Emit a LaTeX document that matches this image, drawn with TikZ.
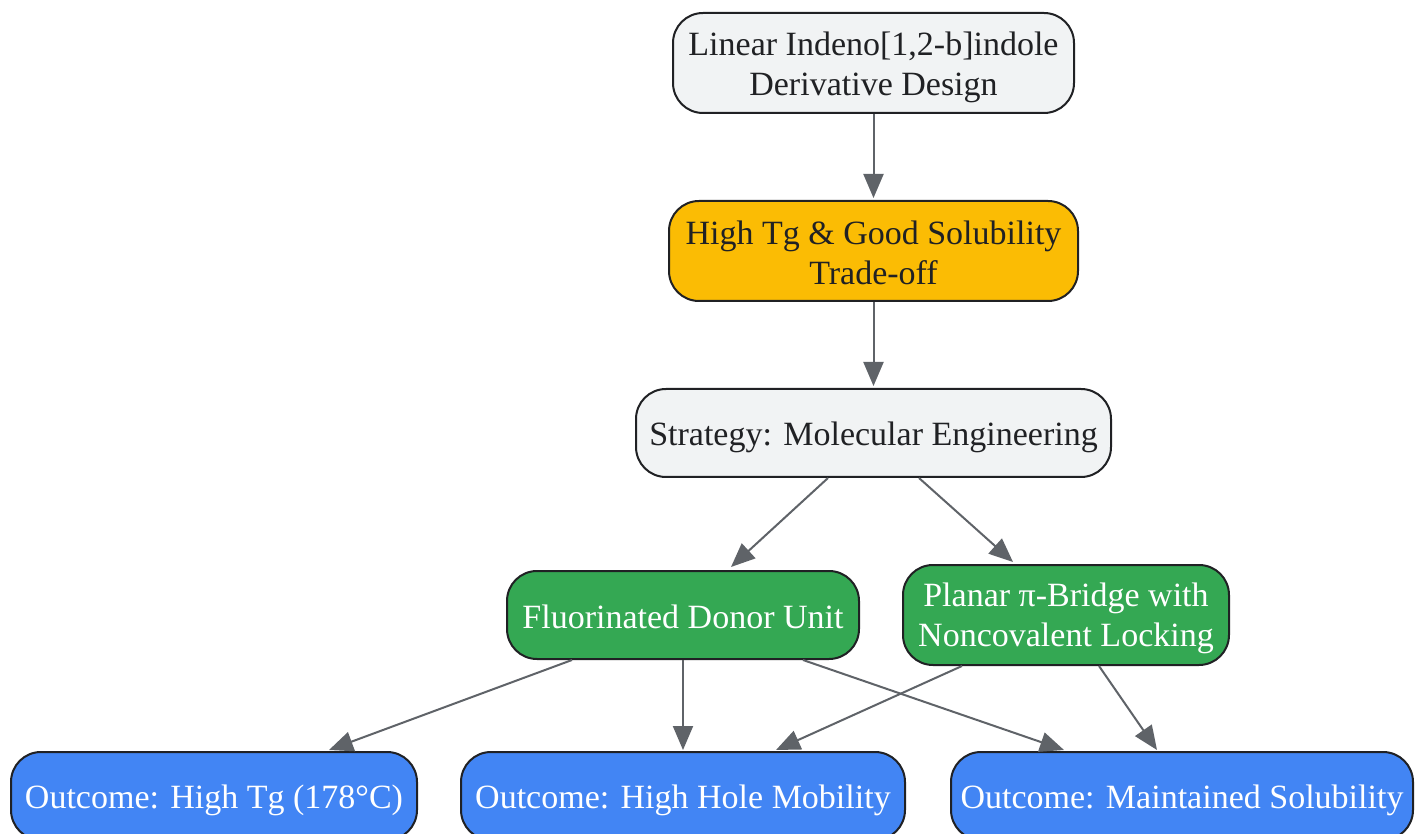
\documentclass[tikz,border=0pt]{standalone}
\usepackage{fontspec}
\setmainfont{Liberation Serif}
\usetikzlibrary{arrows.meta}
\definecolor{edgegray}{HTML}{5F6368}
\definecolor{strokedark}{HTML}{202124}
\definecolor{lightfill}{HTML}{F1F3F4}
\definecolor{orangefill}{HTML}{FBBC04}
\definecolor{greenfill}{HTML}{34A853}
\definecolor{bluefill}{HTML}{4285F4}
\tikzset{
  box/.style={draw=strokedark, line width=1pt, rounded corners=15pt, inner sep=0pt},
  boxtext/.style={align=center, inner sep=0pt, font=\fontsize{17pt}{20pt}\selectfont},
  graybox/.style={box, fill=lightfill},
  orangebox/.style={box, fill=orangefill},
  greenbox/.style={box, fill=greenfill},
  bluebox/.style={box, fill=bluefill},
  darktext/.style={boxtext, text=strokedark},
  whitetext/.style={boxtext, text=white},
  conn/.style={draw=edgegray, line width=1pt, -{Triangle[length=12pt,width=10pt]}, edgegray}
}
\begin{document}
\begin{tikzpicture}[x=0.5pt,y=-0.5pt]
\clip (0,0) rectangle (1415,834);
\useasboundingbox (0,0) rectangle (1415,834);
\fill[white] (0,0) rectangle (1415,834);
\node[graybox, minimum width=200.5pt, minimum height=50pt] (design) at (873.5,63) {};
\node[orangebox, minimum width=204.5pt, minimum height=50pt] (trade) at (873.5,251) {};
\node[graybox, minimum width=237.5pt, minimum height=44pt] (strat) at (873.5,433) {};
\node[greenbox, minimum width=176pt, minimum height=44pt] (fluor) at (683,615) {};
\node[greenbox, minimum width=163pt, minimum height=50pt] (planar) at (1066,615) {};
\node[bluebox, minimum width=203pt, minimum height=44pt] (tg) at (214,796) {};
\node[bluebox, minimum width=222pt, minimum height=44pt] (hole) at (683,796) {};
\node[bluebox, minimum width=231pt, minimum height=44pt] (maint) at (1182,796) {};
\node[darktext] (designtext) at ([yshift=-2pt]design.center) {Linear Indeno[1,2-b]indole\\Derivative Design};
\node[darktext] (tradetext) at ([yshift=-1pt]trade.center) {High Tg \& Good Solubility\\Trade-off};
\node[darktext] (strattext) at ([yshift=-2pt]strat.center) {Strategy: Molecular Engineering};
\node[whitetext] (fluortext) at ([yshift=-1pt]fluor.center) {Fluorinated Donor Unit};
\node[whitetext] (planartext) at ([yshift=-1.5pt]planar.center) {Planar π-Bridge with\\Noncovalent Locking};
\node[whitetext] (tgtext) at ([yshift=-2pt]tg.center) {Outcome: High Tg (178°C)};
\node[whitetext] (holetext) at ([yshift=-2pt]hole.center) {Outcome: High Hole Mobility};
\node[whitetext] (mainttext) at ([yshift=-2pt]maint.center) {Outcome: Maintained Solubility};
\draw[conn] (design.south) -- ([yshift=1pt]trade.north);
\draw[conn] (trade.south) -- ([yshift=1pt]strat.north);
\draw[conn] ([xshift=-22.75pt]strat.south) -- ([xshift=24pt,yshift=1.5pt]fluor.north);
\draw[conn] ([xshift=22.75pt]strat.south) -- ([xshift=-26.5pt,yshift=1pt]planar.north);
\draw[conn] ([xshift=-55.5pt]fluor.south) -- ([xshift=57.5pt,yshift=0.5pt]tg.north);
\draw[conn] (fluor.south) -- ([yshift=0.5pt]hole.north);
\draw[conn] ([xshift=60pt]fluor.south) -- ([xshift=-59pt,yshift=0.5pt]maint.north);
\draw[conn] ([xshift=-52pt]planar.south) -- ([xshift=46.5pt,yshift=0.5pt]hole.north);
\draw[conn] ([xshift=16.5pt]planar.south) -- ([xshift=-12.5pt,yshift=0.5pt]maint.north);
\end{tikzpicture}
\end{document}
